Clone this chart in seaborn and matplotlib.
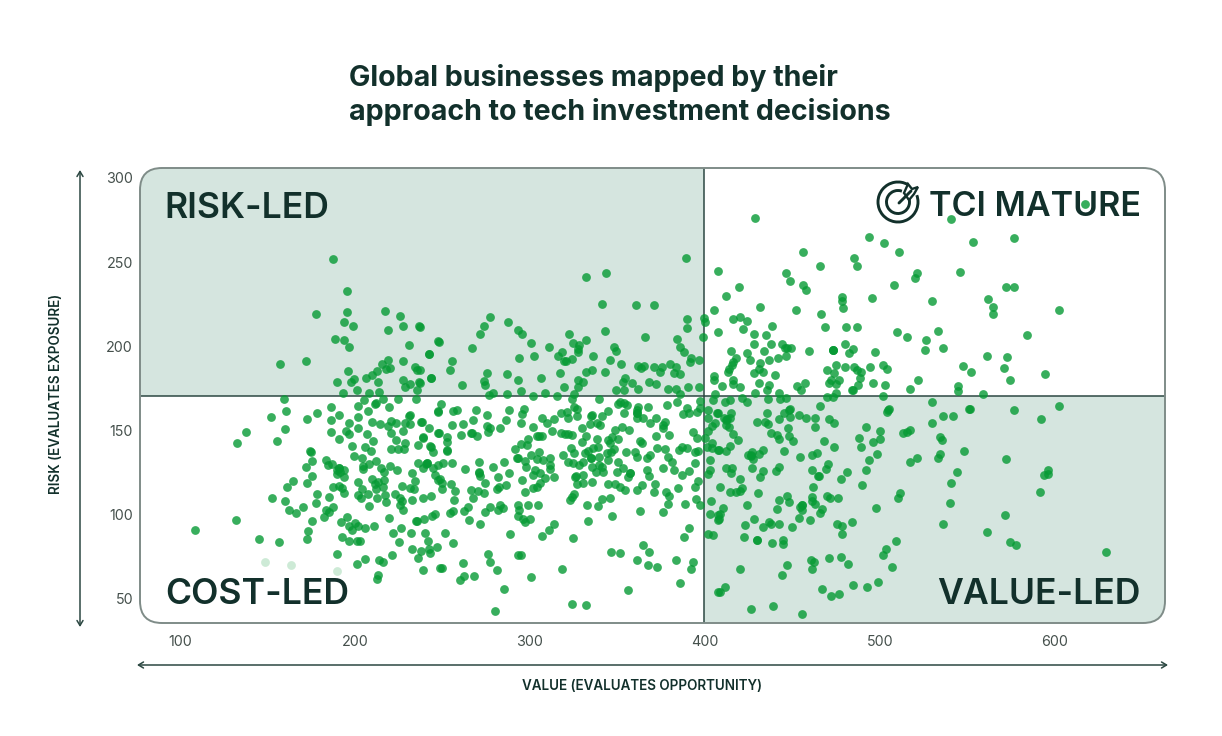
import matplotlib
matplotlib.use("Agg")
import matplotlib.pyplot as plt
import pandas as pd
import seaborn as sns
from matplotlib.patches import Arc, FancyBboxPatch, Polygon, Rectangle
from matplotlib.transforms import IdentityTransform

TITLE = "Global businesses mapped by their\napproach to tech investment decisions"
X_LABEL = "VALUE (EVALUATES OPPORTUNITY)"
Y_LABEL = "RISK (EVALUATES EXPOSURE)"
X_TICKS = [100, 200, 300, 400, 500, 600]
Y_TICKS = [50, 100, 150, 200, 250, 300]
VALUE_SPLIT = 399.3
RISK_SPLIT = 170.5

# Each pair is (value score, risk score) for one business.
risk_led = [
    (187.6,251.9),(195.6,233.1),(177.7,219),(195.6,220.2),(194,214.7),(199,211.9),(217,221),(225.5,218),
    (227.6,212),(236.7,212),(219,209.7),(188.5,204.4),(193.7,203.8),(196.7,199.4),(230.8,200.8),(247.6,203),
    (242.2,195.7),(157,189.3),(172,191.5),(219,192),(227.6,191.5),(215.2,189.3),(234.2,187.5),(235.2,186),
    (220,187.1),(217.7,186.4),(212.3,185.2),(209.5,183),(206.2,181),(196.1,185.2),(199.4,180.8),(197.5,178.8),
    (190,178.6),(213.1,178.6),(227.6,180.2),(231.4,177.4),(228.5,176),(236.7,178.6),(243.2,181),(235.2,173.9),
    (200.9,173.9),(192.9,172.3),(208.1,172.3),(213.5,173.1),
    (388.9,252.7),(343.4,243.4),(332.2,241.4),(341.3,225.2),(360.7,224.4),(371,224.4),(389.7,216.5),(399.6,217.1),
    (389.5,211.1),(398.6,205.4),(384.1,204.6),(385.9,199.7),(388.3,196.7),(392.3,193.1),(391.6,191),(396.7,192.1),
    (380,189.8),(375.6,187.6),(371,188),(374.1,185),(383.4,187.6),(382.2,184),(385.9,183.8),(390.4,175.9),
    (396.5,176.1),(379,174.5),(383.2,174.7),(385.9,171.9),(372.3,177.9),(367.8,179.1),(365.1,188.6),(363.2,187),
    (361.9,188.5),(352,189.8),(345.9,191.7),(348.9,197.1),(347.8,199.7),(342.8,209.2),(365.7,205.8),(332.3,203.6),
    (328.1,200.8),(324.7,202.2),(322.2,207.2),(327.4,198.3),(327.2,196.7),(318.4,196.5),(316,194.5),(336,194.5),
    (324.3,192.3),(320.5,191.5),(319.2,191.3),(335.4,185.8),(331.8,184.6),(317.3,184),(342.8,184.6),(354.4,181.4),
    (353.3,178.7),(358.2,178.5),(327.6,180),(330.4,178.8),(327.2,176.1),(319.2,176.1),(348.9,174.3),(353.7,174.1),
    (361.9,174.5),(325.3,171.9),(315.2,170.7),(308.7,172.5),(301.5,170.8),(295,173.3),(286.8,171.9),(278.6,172.1),
    (276.5,171),(306.2,181.2),(293.1,180),(286.8,183.4),(275.6,184.2),(273.5,179.3),(274.2,177.3),(261.3,177.1),
    (243.2,181),(254.2,186.2),(255.2,191.5),(242.2,195.7),(248,202.8),(237.1,211.7),(267,198.9),(271.2,207.2),
    (273.5,211.9),(276.9,217.3),(287.6,214.5),(292.9,209.5),(295.2,207.6),(300.7,202),(310.8,199.7),(302.4,194.5),
    (293.9,192.9),(237,178.5),(237,186),
]

tci_mature = [
    (428.5,276.3),(540.5,275.9),(617.1,284.6),(493.7,264.8),(502.1,261.6),(552.9,262.2),(510.8,256.1),(455.8,256.1),
    (485.3,252.5),(487,247.8),(465.5,247.8),(407.6,244.6),(446.4,243.4),(448.7,239.1),(521.1,243.8),(519.8,240.4),
    (545.5,244.4),(455.8,236.7),(457.9,233.3),(508,236.3),(419.6,235.5),(412.3,229.8),(495.2,229),(478.4,229.2),
    (478.4,227.2),(479,222.8),(530,226.8),(561.7,228.4),(564.5,223.6),(564.7,219.5),(431.6,223.4),(452.3,221.4),
    (466.1,219.5),(405.3,221.3),(400,214.4),(416.1,216.5),(420.3,217.5),(423.8,215.3),(421.7,210.3),(438.2,211.9),
    (468.7,211.3),(480.5,211.7),(487,211.7),(407.4,208.3),(428.3,207.6),(434.6,206.8),(510,208.8),(515.2,205.8),
    (533.1,209.2),(526.2,203.8),(427.8,201.6),(437.7,201.6),(444.1,201.6),(480,201.6),(445.7,199.3),(448.9,198.9),
    (447,199.3),(459.4,197.5),(473.3,197.9),(473.4,198),(473.2,197.7),(484.7,198.5),(482.6,196.1),(497.3,196.5),
    (525.9,197.9),(535.8,198.9),(560.9,194.3),(415,197.3),(423.8,196.3),(433.9,197.3),(446.4,194.3),(436.7,192.1),
    (441.5,192.9),(418,192.9),(416.1,190.9),(425.7,191.7),(431.6,190.1),(415.2,189),(413.7,186.6),(430.8,186.6),
    (413.3,184.8),(428.1,184.2),(433.3,184.8),(440.1,183),(474.8,189.2),(469.7,185.8),(473.9,184.2),(479.8,188),
    (484.9,188),(487,186),(488.9,185),(494.4,188),(501.9,189.2),(504,186.8),(547.2,188.4),(551.8,185),
    (405.3,182.4),(405.3,180),(416.3,180),(416.1,177.9),(419.8,176.1),(409.7,176.5),(431,178.1),(436.5,177.1),
    (435.2,174.3),(452.5,176.5),(454.6,174.3),(457.3,178.1),(476.7,180),(472.3,180),(471,178.1),(474.8,177.9),
    (488.7,181),(487.6,177.1),(495.8,178.1),(503,177.1),(521.9,180),(516.9,174.5),(544.7,176.5),(544.7,173.7),
    (559,171.7),(484.1,174.1),(484.6,174.3),(428.7,172.1),(442.4,172.1),(405.5,171.5),(474.8,172.1),
    (576.7,264.4),(571.8,235.3),(576.5,235.3),(602.4,221.4),(584.3,206.9),(572.5,193.5),(571,187.1),(594.4,183.6),
    (574.6,179.8),
]

cost_led = [
    (159.2,168.8),(160.3,161.6),(151.8,158.1),(160.1,150.9),(155.6,143.8),(137.9,149),(132.7,142.6),(178.4,160.2),
    (172.5,156.7),(186.4,164),(186.2,156.1),(191,159.4),(201.7,164.8),(201.9,158.3),(205.3,168),(216.1,168.6),
    (224.7,168.6),(234.8,168.6),(211.4,165.8),(212,166.4),(207.6,161.8),(219.6,163.8),(209.9,154.9),(214.2,153.9),
    (196.7,154.3),(201.7,151.3),(194.6,149.7),(196.7,147.8),(186.4,149),(190.6,145.2),(206.8,147.8),(210.4,144),
    (198.4,140.8),(205.7,140),(209.3,137.9),(199.2,135.1),(204,133.7),(220.7,148.4),(219,152.7),(220.3,155.9),
    (223.4,154.7),(228.5,154.3),(231,158.9),(231.3,159.2),(231.4,153.7),(227.6,149.7),(237.7,155.3),(242.4,151.5),
    (247.2,161.6),(247.6,148.8),(239,146.4),(238.6,145.4),(223.4,144.4),(228.7,142.4),(236.1,141.4),(220.7,139.2),
    (224.3,139.2),(228,138.9),(243.4,140.4),(244.3,137.5),(174.2,137.9),(175,137.2),(175.6,132.1),(183.2,132.7),
    (172,128.4),(184.5,129.4),(186.6,130.1),(189.5,126.6),(190.8,127.6),(191,128),(191.4,125.6),(193.7,126.6),
    (193.7,122.6),(189.5,124.2),(175.4,122.8),(172.7,119),(164.7,120),(161.1,116.5),(187.2,116.5),(191,117.1),
    (192.3,115.7),(194,112.9),(201.7,119.4),(204.1,115.3),(201.7,111.5),(203.4,109.7),(207.6,112.5),(207.8,105.2),
    (204.7,129),(204.7,127),(208.1,130.3),(212,132.1),(220,129.1),(214.8,127.6),(216.5,125.6),(224,126.6),
    (232.7,124.6),(234.4,120),(216.7,120.6),(209.9,121.2),(211.4,118.1),(213.1,119.4),(216.1,116.3),(212,115.1),
    (226.6,117.1),(231.4,115.7),(233.7,115.1),(212.7,110.1),(217.1,111.5),(222.8,112.1),(218,107.4),(225.7,110.1),
    (226.6,108.2),(225.7,105.8),(227.6,102.8),(232.3,109),(238.8,110),(243.4,111.3),(178.2,112.1),(185.3,110.5),
    (177.9,106.8),(152.7,109.7),(160.1,108.2),(170.4,104.4),(162.4,103),(166.2,100.8),(187.2,104.4),(183.2,103),
    (185.1,101.4),(182.2,98.5),(175.2,96.3),(195.6,98.6),(191.9,95.5),(200,94.9),(196.7,93.3),(198.1,90.9),
    (201.9,93.3),(205.9,92.1),(210.6,93.3),(219.2,98.1),(226.4,92.1),(234.8,96.3),(235.2,96.6),(239.6,97.5),
    (243.8,99.2),(246,100.2),(173.3,90.5),(172.3,85.8),(192.3,86.8),(196.7,84.6),(200.9,84.6),(202.8,84.6),
    (221.9,89.3),(231.8,89.3),(239.9,89.3),(225.1,83.8),(241.5,84.6),(246.6,81),(242.4,79.4),(237.7,78.5),
    (232.7,79.6),(242.8,77.1),(221.3,76.1),(235.8,74.1),(213.9,73.3),(216.2,71.7),(206,73.9),(201.1,70.7),
    (189.5,76.5),(238.6,67),(213.1,64.2),(212.7,62),(248.3,68.2),(108.7,90.7),(132.1,96.7),(145.3,85.4),
    (156.7,83.6),(240.9,130.5),(241.3,130.9),(240.5,130.1),(236.1,130.5),(238.6,127.6),(244.7,127.6),(245.7,123.6),
    (247.6,120.6),(247.6,129.5),
    (248.9,165.8),(247.4,161),(256.1,161.6),(258.2,162.2),(269.1,162.2),(275.4,159),(267.2,156.1),(261.5,153.7),
    (255.2,153.1),(248,148.6),(260.3,147.6),(252.3,146),(252.7,143.4),(266.4,148.3),(266.8,148.7),(269.5,146.6),
    (275.2,152.7),(276.9,151.3),(276.1,149.3),(282.8,151.3),(286.2,156.5),(288.1,162.4),(296.7,162.8),(295.2,160),
    (294.6,154.3),(301.5,152.3),(307,157.7),(309.5,154.3),(313.9,157.1),(317.5,160.6),(320.9,161),(321.7,157.7),
    (327,158.7),(323.8,168.6),(325.1,164.2),(326.6,162.6),(334.8,158.9),(335.2,159.2),(341.1,158.7),(344.7,161.6),
    (339.6,168.6),(334.2,153.7),(338.1,154.7),(340.1,153.3),(329.7,151.7),(312.7,149.7),(318,148.4),(320.1,148.2),
    (321.9,148),(324.1,147.2),(305.3,147),(303.8,147),(306.6,147),(298.6,145.2),(294.8,142.2),(298.2,141.2),
    (291.4,139),(332.3,147),(329.5,143.4),(338.1,144.8),(348.5,150.3),(352.7,151.9),(356.5,150.3),(346.6,146.4),
    (344.7,144.4),(350.1,145.2),(345.7,142.4),(353.7,160.2),(360.9,162.2),(360.9,160.2),(361.2,160.6),(361.9,164.2),
    (367.2,163.8),(378.1,165.4),(384.1,166.8),(389.5,163.2),(391,160.2),(387.6,159.8),(395.6,161.2),(397.1,167.6),
    (397.1,163.2),(353.7,166.2),(351.4,167.2),(350.4,165.8),(355.2,165.2),(364.7,157.3),(360.9,157.7),(368.5,154.3),
    (372,157.7),(377.1,154.9),(375.8,151.3),(376.1,153.3),(379.4,147.6),(372,146.6),(362.8,144),(364.3,142.4),
    (393.3,149),(395.6,145.4),(394.2,137.5),(395.8,137.9),(389.9,139.4),(386.6,140.4),(385.3,138.5),(377.1,139.1),
    (372.7,139.8),(378.6,134.5),(380.9,131.3),(394.2,130.9),(376.1,127.6),(382.2,126.6),(391,125.8),(386.6,123.6),
    (396.1,120.2),(394.2,116.7),(384.7,115.7),(377.7,113.5),(379.6,111.1),(370.6,113.5),(371.4,118.5),(366.6,126.6),
    (368,123),(363.8,117.7),(361.3,114.5),(368.5,135.5),(367,133.9),(360.9,134.5),(360,137.1),(354.8,137.1),
    (348,139.2),(346.2,137.5),(343.8,136.5),(339,140),(336.1,139.8),(333.3,137.9),(331.4,136.5),(323.2,139.4),
    (325.1,136.9),(318.6,135.5),(334.8,133.5),(335.1,133.9),(339.4,134.5),(330.4,131.5),(327.8,129.5),(321.9,131.1),
    (324.7,131),(344.7,132.5),(350.1,131.3),(353.3,127.6),(349.5,125.6),(357.1,124.6),(357.4,124.9),(356.1,122.2),
    (335.6,128.2),(339.4,129.5),(340.9,128.2),(337.5,125.6),(341.9,125.6),(330.4,123.6),(325.7,122.6),(326.1,122.8),
    (330.4,119),(326.6,118),(335.4,119.2),(344.7,118.5),(348.7,118.5),(351.4,116.7),(354.2,114.5),(341.3,109.5),
    (345.7,110.1),(325.1,112.3),(324.3,110.7),(322.6,108.6),(332.7,106),(338.8,105.2),(304.7,106),(299,105.6),
    (313.9,122.6),(311.4,133.5),(311.4,129.5),(311.6,127),(307.6,132.5),(303.8,133.1),(305.3,137.5),(300.5,135.5),
    (292.5,133.5),(292.9,133.8),(297.1,132.1),(297.7,128.2),(302.8,126.6),(306,125),(301.9,123.6),(308.5,121.6),
    (306,119),(303.8,116.7),(301.9,116.1),(296.9,113.3),(295.2,120.6),(288.1,124.6),(285.1,131.3),(279,128.2),
    (281.9,122.2),(286.4,117.7),(282.4,116.5),(280.9,115.5),(274.1,118.7),(273.9,112.7),(270.6,131.3),(270.6,125),
    (271,125.4),(271.4,123),(262.6,127.4),(255.2,130.9),(250.1,130.5),(248.5,121),(249.7,118.7),(249.7,115.5),
    (254.6,118.1),(257.3,114.1),(256.7,108.9),(266.4,114.5),(270.4,114.3),(267.4,109.7),(242.8,141),(252.3,138),
    (252.6,138.4),(264.7,104.4),(262.4,102.2),(256.1,102),(254.2,100.8),(265.3,96.9),(271.2,94.5),(274.2,101.6),
    (276.9,104.6),(282.8,105.8),(284.3,103.8),(281.5,102.8),(292.9,105.8),(293.5,102.8),(292.9,99.2),(296.2,97.3),
    (297.1,95.9),(300.3,97.3),(313.9,94.5),(310.8,90.9),(306.8,87.6),(288.5,88.4),(324.7,86.2),(332.9,96.1),
    (346.6,99.4),(362.6,102.4),(376.1,101.4),(378.6,106.4),(388.5,106.4),(394.6,109.3),(397.3,105.8),(390.8,91.9),
    (387.8,86.8),(251.4,89),(256,83.2),(250,68.6),(261.5,71.5),(275.8,76.9),(277.1,71.9),(281.1,67),
    (292.9,75.9),(295,75.9),(300.7,63),(318.4,67.8),(268.1,63.6),(262.4,63.6),(260.2,61.4),(285.3,55.9),
    (280,42.8),(324.3,47.2),(332,46.4),(356,55.3),(346.1,78),(351.6,77.1),(364.7,82),(367.8,78.1),
    (361.1,73.3),(367.2,70),(372.7,69.1),(383.2,73.3),(392.9,71.9),(392,67.8),(385.5,59.4),(238.1,155.1),
]

value_led = [
    (400,145.4),(401.5,149.9),(405.7,154.3),(401.9,162.2),(406.6,160.2),(401.9,157.3),(403.8,142.4),(400.9,140.4),
    (407.6,138.5),(403.8,139.4),(402.8,132.5),(402.8,126.6),(401.9,124.2),(403.6,108),(402.8,100.2),(407.6,99.8),
    (407.6,96.9),(401.9,88.6),(404.7,87.8),(407.6,53.9),(469.5,170.1),(473.3,170.1),(501.5,170.3),(404.7,168.2),
    (411.4,167.2),(414.2,168.2),(420.9,169.5),(423.8,167.2),(436.1,168.8),(442.8,168.8),(446.2,169.5),(529.5,167.2),
    (465.7,164.8),(505.3,163),(551,163),(448.5,163),
    (504.7,162.2),(503.8,160.8),(551.2,162.6),(535.8,158.9),(541.5,158.9),(529.7,154.7),(491.8,152.3),(500.1,149.9),
    (517.3,150.3),(515.6,149.2),(513.1,148.4),(500.3,144.8),(488.3,145.8),(496.3,143.2),(489.3,140.4),(473.5,140.4),
    (468.3,143.6),(473.5,154.7),(470.8,156.7),(462.8,157.3),(462.8,152.1),(457.9,157.3),(453.7,159.2),(448.1,162.2),
    (448.5,158.3),(445.1,160.6),(442.4,156.9),(435.2,160.2),(434.2,155.3),(436.1,153.7),(429.5,154.9),(447.4,151.3),
    (448.1,147),(450.4,143.8),(437.7,148.4),(440.9,147.4),(442.2,144.8),(414.8,160.2),(414.2,157.3),(407.2,160.2),
    (412.3,156.3),(412.6,156.6),(410.8,157.3),(412.3,153.3),(413.9,152.3),(404.3,152.9),(416.1,148),(419,144.4),
    (414.2,141),(408.1,138.5),(412,138.1),(424.7,135.5),(426.6,137.5),(426.1,135.1),(426.4,135.4),(427.2,133.1),
    (431,136.1),(433.3,138.3),(445.1,138.1),(454.2,134.5),(460.9,135.3),(463.8,136.9),(470.4,130.1),(468.9,127.2),
    (481.1,125.2),(477.7,121.2),(489.7,117.5),(491.8,126.6),(493.9,132.7),(498.2,136.1),(517.1,131.3),(521.3,133.7),
    (534.1,136.1),(532.9,133.5),(548.2,138.1),(534.2,146.4),(535.2,144.4),(543.8,125.4),(540.5,118.7),(539.8,107.2),
    (536.3,94.7),(560.9,89.5),(511.6,112.9),(510.4,110.1),(497.9,104.2),(484,95.5),(475.4,94.5),(478.1,93.3),
    (478.4,88.8),(508.9,84.6),(503.2,79.4),(502,76.1),(506.8,69.1),(498.8,60.2),(492.5,57.3),(484.5,58.1),
    (476.5,52.9),(471.8,51.7),(466.8,55.9),(481.5,70.7),(477.9,74.9),(471,74.1),(462.4,72.1),(460.5,73.1),
    (461.3,68),(446.6,69.9),(444,64.4),(420.3,67.6),(411.4,57.3),(408.7,53.9),(426.1,44),(438.8,45.8),
    (455.6,41),(444.7,85),(444.7,82.4),(438.4,83.2),(429.7,85),(430,85.3),(422.4,86.8),(422.8,94.1),
    (428.3,97.3),(432.9,92.7),(436.5,95.5),(438,94.7),(442.2,94.7),(449.5,92.7),(453.5,98.1),(460.3,96.7),
    (465.7,100.8),(466.8,103.2),(455.2,105.8),(455.5,106.1),(454.2,104.8),(455.2,102.8),(440.9,103.4),(424.3,105.6),
    (442.2,108.8),(446.6,111.1),(448,107.6),(460.9,110.3),(460.9,108.4),(462.8,106.2),(469.5,111.1),(471.4,109.7),
    (475.8,110.1),(461.9,116.7),(464.7,123),(465,123.3),(460.9,126.4),(442.4,128.6),(440.5,125.8),(432.9,125.8),
    (431.6,122.4),(427,128),(430.2,113.1),(421.3,116.1),(420,114.1),(417.7,113.7),(414.2,113.7),(419.8,121.4),
    (412.3,128),(415.2,127.6),(414.6,124.6),(408.5,116.3),(410.2,104.2),(408.5,100.4),(408.1,97.3),
    (576.7,162),(602.4,164.8),(592.1,157),(571.8,133.1),(596,126.6),(593.7,123.8),(596.1,124.2),(591.4,113.5),
    (571.4,99.6),(574.6,83.6),(577.9,82.2),(628.9,77.9),
]

# Businesses partly hidden behind the lower-left caption.
faded_cost_led = [(148.7,71.9),(163.4,69.9),(189.7,66.4)]

INK = "#12302b"
TICK_INK = "#45504c"
QUADRANT_FILL = "#d5e5df"
FRAME = "#7f8c88"
DIVIDER = "#2c4842"
DOT = "#069a34"

W, H = 1222, 736
sns.set_theme(style="white")
plt.rcParams["font.family"] = ["Inter", "DejaVu Sans"]

firms = pd.DataFrame(risk_led + tci_mature + cost_led + value_led, columns=["value", "risk"])
faded = pd.DataFrame(faded_cost_led, columns=["value", "risk"])

fig = plt.figure(figsize=(W / 100, H / 100), dpi=100, facecolor="white")
LEFT, RIGHT, TOP, BOTTOM = 140, 1165, 168, 623
ax = fig.add_axes([LEFT / W, 1 - BOTTOM / H, (RIGHT - LEFT) / W, (BOTTOM - TOP) / H])
ax.set_xlim(77.14, 662.9)
ax.set_ylim(35.75, 305.9)
ax.patch.set_visible(False)

# Rounded plot frame, also used to clip the shaded quadrants and dividers.
frame = FancyBboxPatch((LEFT + 22, H - BOTTOM + 22), RIGHT - LEFT - 44, BOTTOM - TOP - 44,
                       boxstyle="round,pad=22,rounding_size=22",
                       transform=IdentityTransform(), facecolor="none", edgecolor=FRAME,
                       linewidth=1.4, zorder=4, clip_on=False)
ax.add_patch(frame)

x0, x1 = ax.get_xlim()
y0, y1 = ax.get_ylim()
for xa, xb, ya, yb in [(x0, VALUE_SPLIT, RISK_SPLIT, y1), (VALUE_SPLIT, x1, y0, RISK_SPLIT)]:
    shade = Rectangle((xa, ya), xb - xa, yb - ya, facecolor=QUADRANT_FILL, edgecolor="none", zorder=1)
    ax.add_patch(shade)
    shade.set_clip_path(frame)

for line in (ax.axvline(VALUE_SPLIT, color=DIVIDER, lw=1.1, zorder=2),
             ax.axhline(RISK_SPLIT, color=DIVIDER, lw=1.1, zorder=2)):
    line.set_clip_path(frame)

sns.scatterplot(data=firms, x="value", y="risk", color=DOT, s=40, alpha=0.8, linewidth=0, ax=ax, zorder=6)
sns.scatterplot(data=faded, x="value", y="risk", color=DOT, s=40, alpha=0.2, linewidth=0, ax=ax, zorder=6)

ax.set_xticks(X_TICKS)
ax.set_yticks(Y_TICKS)
ax.tick_params(axis="x", length=0, pad=9, labelsize=10.3, labelcolor=TICK_INK)
ax.tick_params(axis="y", length=0, pad=5, labelsize=10.3, labelcolor=TICK_INK)
for tick in ax.get_yticklabels():
    tick.set_y(tick.get_position()[1])
sns.despine(ax=ax, left=True, bottom=True, right=True, top=True)

ax.set_xlabel(X_LABEL, fontsize=9.7, fontweight=600, color=INK)
ax.set_ylabel(Y_LABEL, fontsize=9.7, fontweight=600, color=INK)
ax.xaxis.set_label_coords((642 - LEFT) / (RIGHT - LEFT), -(686 - BOTTOM) / (BOTTOM - TOP), transform=ax.transAxes)
ax.yaxis.set_label_coords((56 - LEFT) / (RIGHT - LEFT), (BOTTOM - 394) / (BOTTOM - TOP), transform=ax.transAxes)
ax.xaxis.label.set_verticalalignment("center")
ax.yaxis.label.set_verticalalignment("center")

# Pixel-space overlay for the title, captions, range arrows and target emblem.
ov = fig.add_axes([0, 0, 1, 1], zorder=-1)
ov.set_xlim(0, W)
ov.set_ylim(H, 0)
ov.axis("off")

ov.text(349, 95, TITLE, fontsize=20.6, fontweight=700, color=INK, ha="left", va="center", linespacing=1.24)

ax_cap = fig.add_axes([0, 0, 1, 1], zorder=0.5)
ax_cap.set_xlim(0, W)
ax_cap.set_ylim(H, 0)
ax_cap.axis("off")
quad_caption = dict(fontsize=25.6, fontweight=600, color=INK, va="center")
ax_cap.text(164, 208, "RISK-LED", ha="left", **quad_caption)
ax_cap.text(165, 595, "COST-LED", ha="left", **quad_caption)
ax_cap.text(1141, 595, "VALUE-LED", ha="right", **quad_caption)
ax_cap.text(1141, 207, "TCI MATURE", ha="right", fontsize=24.5, fontweight=600, color=INK, va="center")

arrow = dict(arrowstyle="<->,head_length=0.3,head_width=0.18", color=DIVIDER, lw=1.1, shrinkA=0, shrinkB=0)
ov.annotate("", xy=(80, 170), xytext=(80, 627), arrowprops=arrow)
ov.annotate("", xy=(137, 665), xytext=(1168, 665), arrowprops=arrow)

# Target-and-arrow emblem beside the top-right caption.
cx, cy = 898, 202
ax_cap.add_patch(Arc((cx, cy), 40, 40, theta1=-20, theta2=300, color=INK, lw=2.1))
ax_cap.add_patch(Arc((cx, cy), 23, 23, theta1=-20, theta2=290, color=INK, lw=2.1))
ax_cap.plot([cx + 1, cx + 13], [cy + 1, cy - 11], color=INK, lw=2.1, solid_capstyle="round")
ax_cap.add_patch(Polygon([(cx + 6, cy - 9), (cx + 10, cy - 18), (cx + 14, cy - 13), (cx + 20, cy - 15),
                          (cx + 16, cy - 8), (cx + 11, cy - 2)], closed=True, facecolor="white",
                         edgecolor=INK, lw=1.7))

fig.savefig("out.png", dpi=100, facecolor="white")
